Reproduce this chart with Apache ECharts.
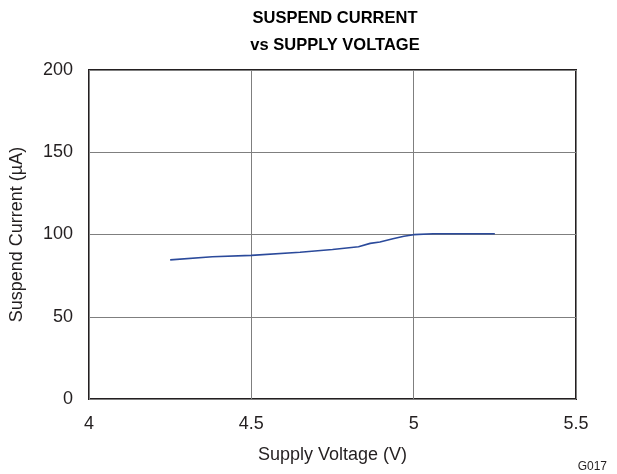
<!DOCTYPE html>
<html>
<head>
<meta charset="utf-8">
<script src="https://cdn.jsdelivr.net/npm/echarts@6/dist/echarts.min.js"></script>
<style>
  html, body { margin: 0; padding: 0; background: #fff; }
  #chart { width: 617px; height: 474px; }
</style>
</head>
<body>
<div id="chart"></div>
<script>
// supply voltage (V) vs suspend current (uA)
const voltage = [4.25, 4.38, 4.5, 4.65, 4.75, 4.83, 4.866, 4.896, 4.936, 4.97, 5.0, 5.06, 5.15, 5.25]
const current = [84.6, 86.5, 87.3, 89.2, 90.9, 92.6, 94.6, 95.4, 97.4, 98.9, 99.9, 100.5, 100.5, 100.5]
const xTicks = [4, 4.5, 5, 5.5]
const yTicks = [0, 50, 100, 150, 200]

const chart = echarts.init(document.getElementById('chart'))
const font = 'Liberation Sans, Arial, sans-serif'

chart.setOption({
  animation: false,
  title: {
    text: 'SUSPEND CURRENT\nvs SUPPLY VOLTAGE',
    left: 330,
    top: 0,
    textAlign: 'center',
    textStyle: { fontFamily: font, fontSize: 16.5, fontWeight: 'bold', color: '#000', lineHeight: 27 }
  },
  graphic: [{
    type: 'text',
    right: 10,
    bottom: 1,
    style: { text: 'G017', fontFamily: font, fontSize: 12, fill: '#231f20' }
  }],
  grid: {
    left: 89, top: 70, width: 487, height: 329,
    show: true, borderColor: '#231f20', borderWidth: 2, backgroundColor: 'transparent'
  },
  xAxis: {
    type: 'value',
    min: 4, max: 5.5, interval: 0.5,
    name: 'Supply Voltage (V)',
    nameLocation: 'middle',
    nameGap: 47,
    nameTextStyle: { fontFamily: font, fontSize: 18, color: '#231f20' },
    axisLine: { show: false },
    axisTick: { show: false },
    axisLabel: {
      fontFamily: font, fontSize: 18, color: '#231f20', margin: 16,
      formatter: v => xTicks.includes(v) ? String(v) : ''
    },
    splitLine: { show: true, lineStyle: { color: '#7f7f7f', width: 1 } }
  },
  yAxis: {
    type: 'value',
    min: 0, max: 200, interval: 50,
    name: 'Suspend Current (µA)',
    nameLocation: 'middle',
    nameGap: 63,
    nameTextStyle: { fontFamily: font, fontSize: 18, color: '#231f20' },
    axisLine: { show: false },
    axisTick: { show: false },
    axisLabel: {
      fontFamily: font, fontSize: 18, color: '#231f20', margin: 16,
      formatter: v => yTicks.includes(v) ? String(v) : ''
    },
    splitLine: { show: true, lineStyle: { color: '#7f7f7f', width: 1 } }
  },
  series: [{
    type: 'line',
    data: voltage.map((v, i) => [v, current[i]]),
    showSymbol: false,
    smooth: false,
    lineStyle: { color: '#2b4a9b', width: 1.6 }
  }]
})
</script>
</body>
</html>
